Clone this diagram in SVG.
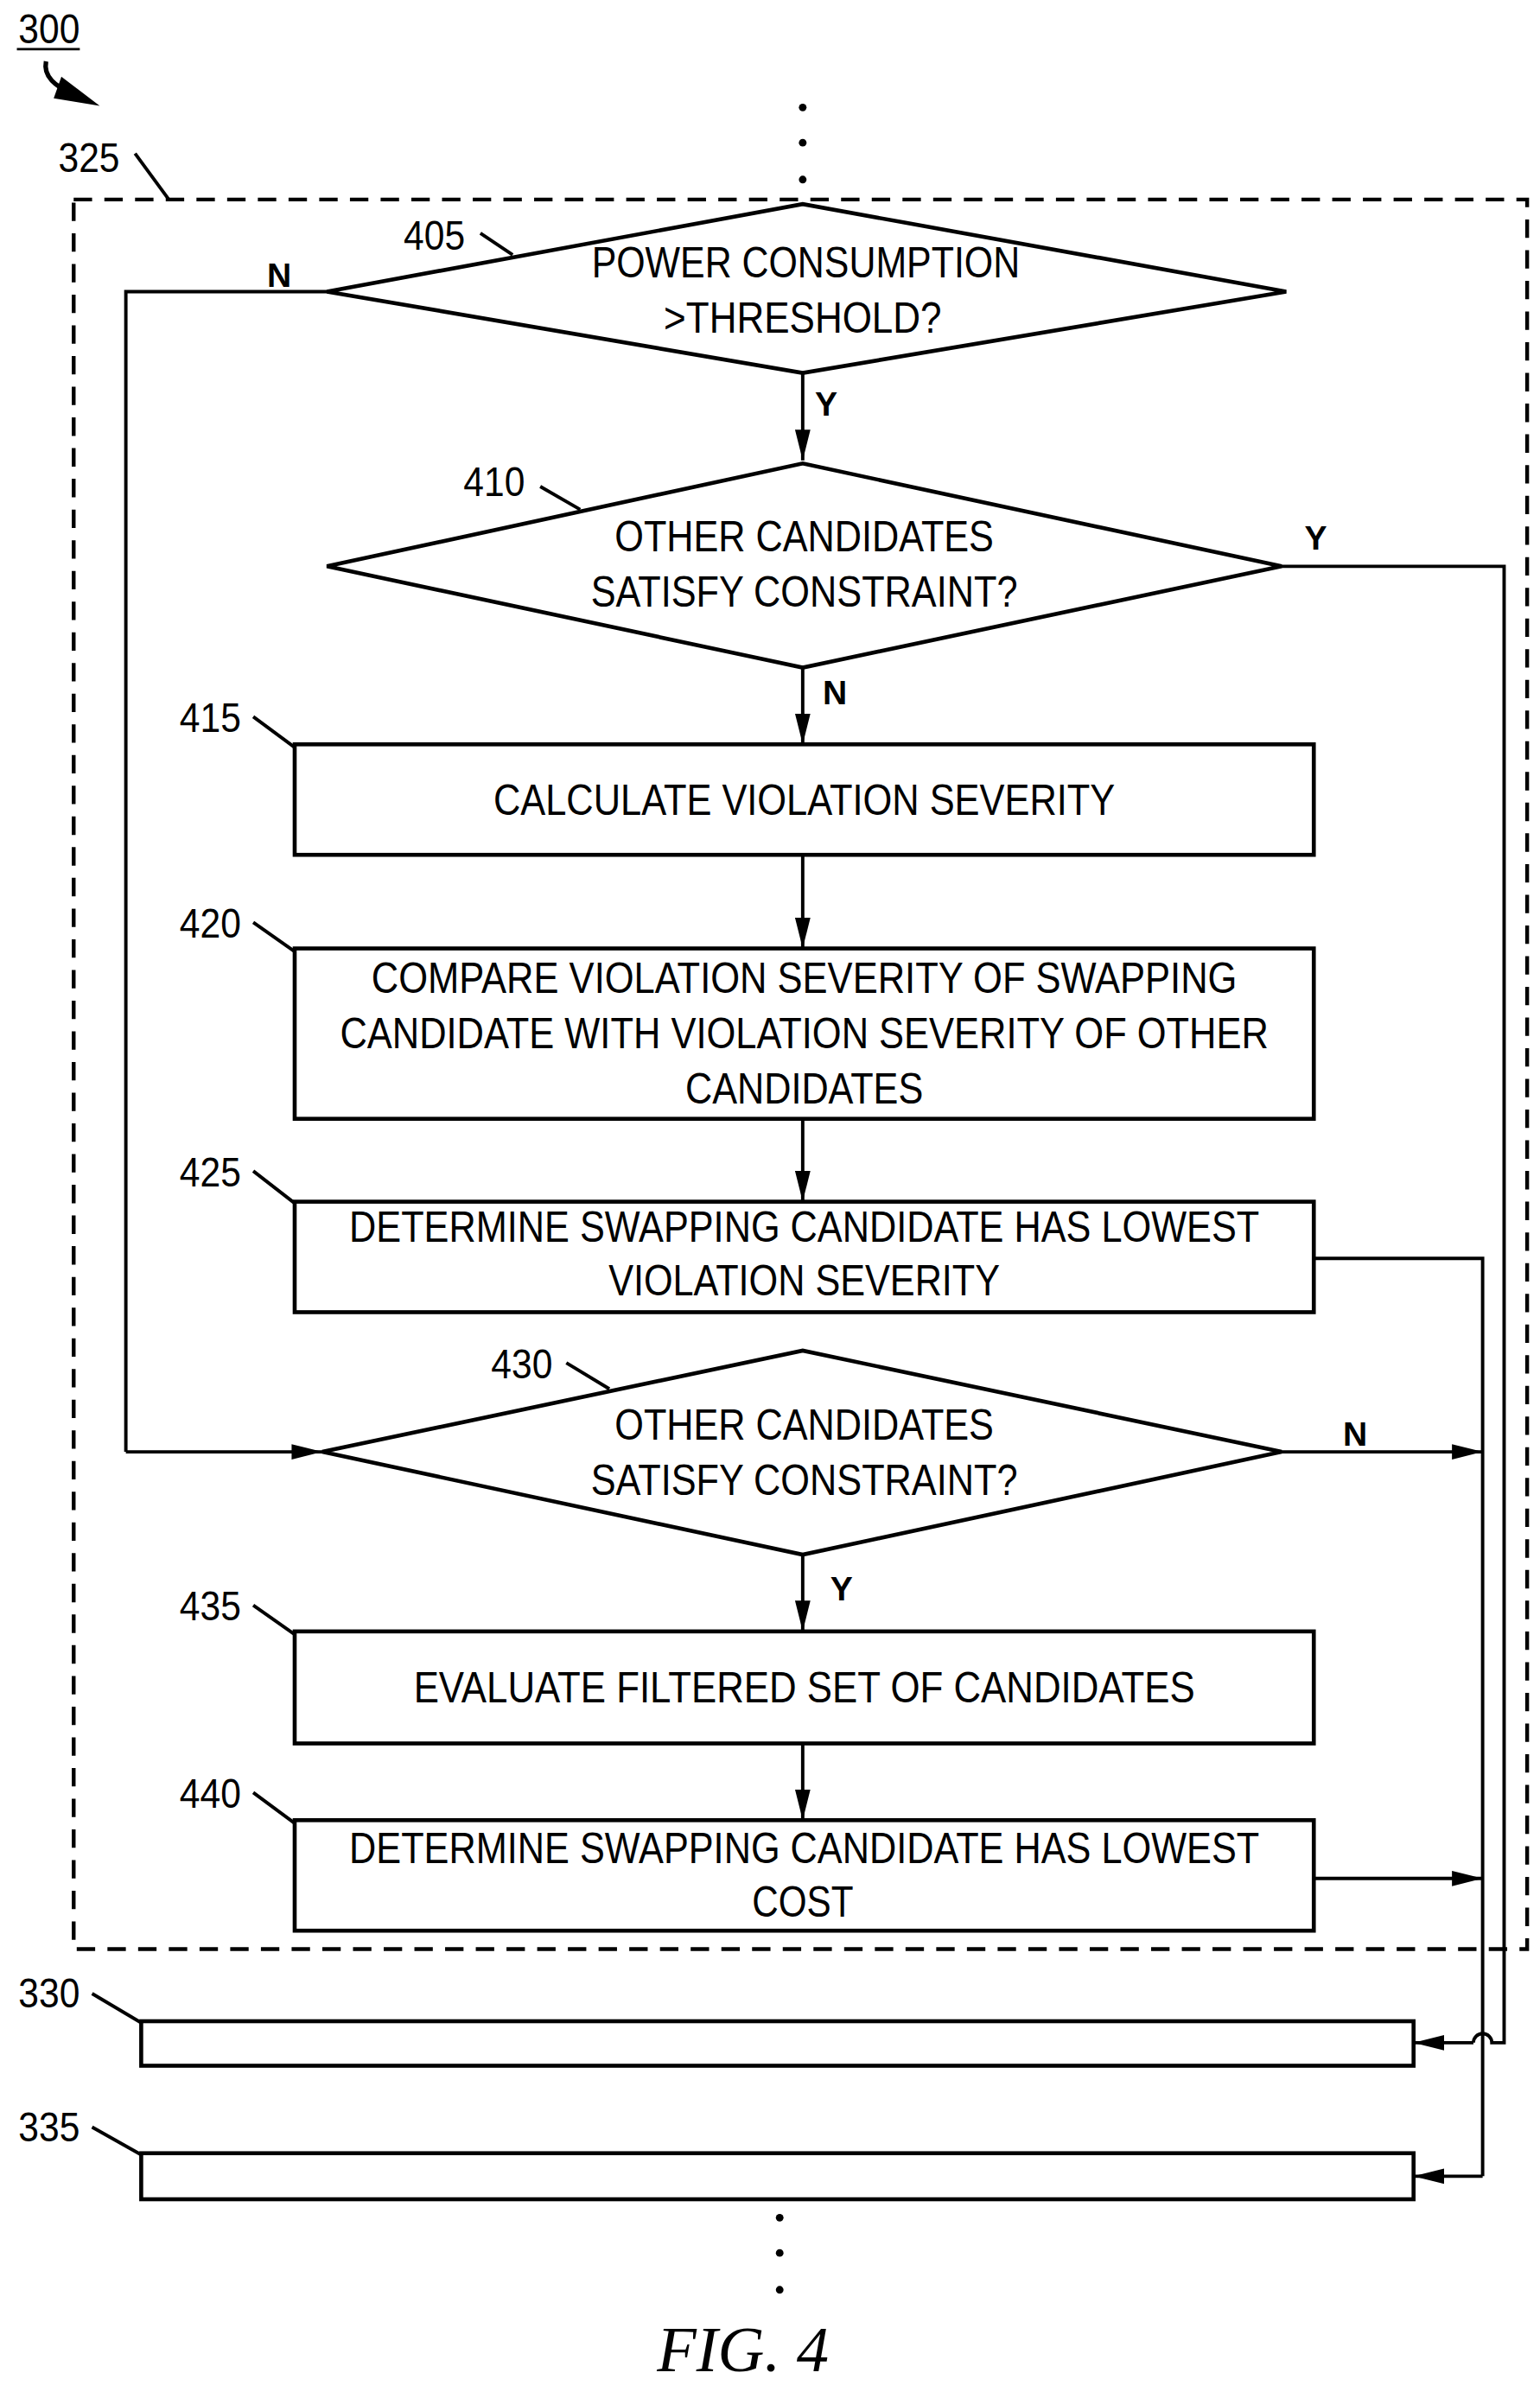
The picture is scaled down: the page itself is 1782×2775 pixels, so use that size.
<svg xmlns="http://www.w3.org/2000/svg" width="1782" height="2775" viewBox="0 0 1782 2775">
<style>
.t{font-family:"Liberation Sans",Arial,sans-serif;font-size:28px;fill:#000;text-anchor:middle}
.n{font-family:"Liberation Sans",Arial,sans-serif;font-size:27px;fill:#000}
.yn{font-family:"Liberation Sans",Arial,sans-serif;font-size:22px;font-weight:bold;fill:#000}
.s{fill:#fff;stroke:#000;stroke-width:2.6}
.l{fill:none;stroke:#000;stroke-width:2.2}
.a{fill:none;stroke:#000;stroke-width:2.2;marker-end:url(#ah)}
</style>
<defs>
<marker id="ah" viewBox="0 0 20 10" refX="20" refY="5" markerWidth="20" markerHeight="10" markerUnits="userSpaceOnUse" orient="auto"><path d="M0,0 L20,5 L0,10 Z" fill="#000"/></marker>
</defs>
<rect width="1782" height="2775" fill="#fff"/>
<g transform="scale(1.776)">
<g id="labels">
<text class="n" x="12" y="28" textLength="40" lengthAdjust="spacingAndGlyphs">300</text>
<line x1="11" y1="32" x2="52" y2="32" stroke="#000" stroke-width="1.5"/>
<path d="M30,40 C28,50 36,56 48,62" fill="none" stroke="#000" stroke-width="3"/>
<path d="M40,50 L65,69 L35,64 Z" fill="#000"/>
<text class="n" x="38" y="112" textLength="40" lengthAdjust="spacingAndGlyphs">325</text>
<line class="l" x1="88" y1="100" x2="110" y2="130"/>
<circle cx="523" cy="70" r="2.5"/><circle cx="523" cy="93" r="2.5"/><circle cx="523" cy="117" r="2.5"/>
<circle cx="508" cy="1445" r="2.5"/><circle cx="508" cy="1468" r="2.5"/><circle cx="508" cy="1492" r="2.5"/>
<text x="484" y="1545" style="font-family:'Liberation Serif',serif;font-style:italic;font-size:42px;text-anchor:middle">FIG. 4</text>
</g>
<rect id="n325" x="48" y="130" width="947" height="1140" fill="none" stroke="#000" stroke-width="2.5" stroke-dasharray="12,8"/>
<g id="connectors">
<path class="a" d="M523,243 V300"/>
<path class="l" d="M213,190 H82 V946"/><path class="a" d="M82,946 H210"/>
<path class="a" d="M523,435 V485"/>
<path class="a" d="M523,557 V618"/>
<path class="a" d="M523,729 V783"/>
<path class="a" d="M523,1013 V1063"/>
<path class="a" d="M523,1136 V1186"/>
<path class="l" d="M835,369 H980 V1331 H972 A6,6 0 0 0 960,1331"/><path class="a" d="M960,1331 H921"/>
<path class="l" d="M856,820 H966 V1418"/><path class="a" d="M966,1418 H921"/>
<path class="a" d="M835,946 H966"/>
<path class="a" d="M856,1224 H966"/>
<text class="yn" x="531" y="271">Y</text>
<text class="yn" x="850" y="358">Y</text>
<text class="yn" x="536" y="459">N</text>
<text class="yn" x="174" y="187">N</text>
<text class="yn" x="875" y="942">N</text>
<text class="yn" x="541" y="1043">Y</text>
</g>
<g id="n405">
<polygon class="s" points="213,190 523,133 838,190 523,243"/>
<text class="t" x="525" y="181" textLength="279" lengthAdjust="spacingAndGlyphs">POWER CONSUMPTION</text>
<text class="t" x="523" y="217" textLength="181" lengthAdjust="spacingAndGlyphs">&gt;THRESHOLD?</text>
<text class="n" x="263" y="163" textLength="40" lengthAdjust="spacingAndGlyphs">405</text>
<line class="l" x1="313" y1="152" x2="334" y2="166"/>
</g>
<g id="n410">
<polygon class="s" points="213,369 523,302 835,369 523,435"/>
<text class="t" x="524" y="359" textLength="247" lengthAdjust="spacingAndGlyphs">OTHER CANDIDATES</text>
<text class="t" x="524" y="395" textLength="278" lengthAdjust="spacingAndGlyphs">SATISFY CONSTRAINT?</text>
<text class="n" x="302" y="323" textLength="40" lengthAdjust="spacingAndGlyphs">410</text>
<line class="l" x1="352" y1="317" x2="378" y2="332"/>
</g>
<g id="n415">
<rect class="s" x="192" y="485" width="664" height="72"/>
<text class="t" x="524" y="531" textLength="405" lengthAdjust="spacingAndGlyphs">CALCULATE VIOLATION SEVERITY</text>
<text class="n" x="117" y="477" textLength="40" lengthAdjust="spacingAndGlyphs">415</text>
<line class="l" x1="165" y1="467" x2="192" y2="487"/>
</g>
<g id="n420">
<rect class="s" x="192" y="618" width="664" height="111"/>
<text class="t" x="524" y="647" textLength="564" lengthAdjust="spacingAndGlyphs">COMPARE VIOLATION SEVERITY OF SWAPPING</text>
<text class="t" x="524" y="683" textLength="605" lengthAdjust="spacingAndGlyphs">CANDIDATE WITH VIOLATION SEVERITY OF OTHER</text>
<text class="t" x="524" y="719" textLength="155" lengthAdjust="spacingAndGlyphs">CANDIDATES</text>
<text class="n" x="117" y="611" textLength="40" lengthAdjust="spacingAndGlyphs">420</text>
<line class="l" x1="165" y1="601" x2="192" y2="620"/>
</g>
<g id="n425">
<rect class="s" x="192" y="783" width="664" height="72"/>
<text class="t" x="524" y="809" textLength="593" lengthAdjust="spacingAndGlyphs">DETERMINE SWAPPING CANDIDATE HAS LOWEST</text>
<text class="t" x="524" y="844" textLength="255" lengthAdjust="spacingAndGlyphs">VIOLATION SEVERITY</text>
<text class="n" x="117" y="773" textLength="40" lengthAdjust="spacingAndGlyphs">425</text>
<line class="l" x1="165" y1="763" x2="192" y2="784"/>
</g>
<g id="n430">
<polygon class="s" points="210,946 523,880 835,946 523,1013"/>
<text class="t" x="524" y="938" textLength="247" lengthAdjust="spacingAndGlyphs">OTHER CANDIDATES</text>
<text class="t" x="524" y="974" textLength="278" lengthAdjust="spacingAndGlyphs">SATISFY CONSTRAINT?</text>
<text class="n" x="320" y="898" textLength="40" lengthAdjust="spacingAndGlyphs">430</text>
<line class="l" x1="369" y1="888" x2="397" y2="905"/>
</g>
<g id="n435">
<rect class="s" x="192" y="1063" width="664" height="73"/>
<text class="t" x="524" y="1109" textLength="509" lengthAdjust="spacingAndGlyphs">EVALUATE FILTERED SET OF CANDIDATES</text>
<text class="n" x="117" y="1056" textLength="40" lengthAdjust="spacingAndGlyphs">435</text>
<line class="l" x1="165" y1="1046" x2="192" y2="1065"/>
</g>
<g id="n440">
<rect class="s" x="192" y="1186" width="664" height="72"/>
<text class="t" x="524" y="1214" textLength="593" lengthAdjust="spacingAndGlyphs">DETERMINE SWAPPING CANDIDATE HAS LOWEST</text>
<text class="t" x="523" y="1249" textLength="66" lengthAdjust="spacingAndGlyphs">COST</text>
<text class="n" x="117" y="1178" textLength="40" lengthAdjust="spacingAndGlyphs">440</text>
<line class="l" x1="165" y1="1168" x2="192" y2="1188"/>
</g>
<g id="n330">
<rect class="s" x="92" y="1317" width="829" height="29"/>
<text class="n" x="12" y="1308" textLength="40" lengthAdjust="spacingAndGlyphs">330</text>
<line class="l" x1="60" y1="1299" x2="92" y2="1318"/>
</g>
<g id="n335">
<rect class="s" x="92" y="1403" width="829" height="30"/>
<text class="n" x="12" y="1395" textLength="40" lengthAdjust="spacingAndGlyphs">335</text>
<line class="l" x1="60" y1="1386" x2="92" y2="1404"/>
</g>
</g>
</svg>
